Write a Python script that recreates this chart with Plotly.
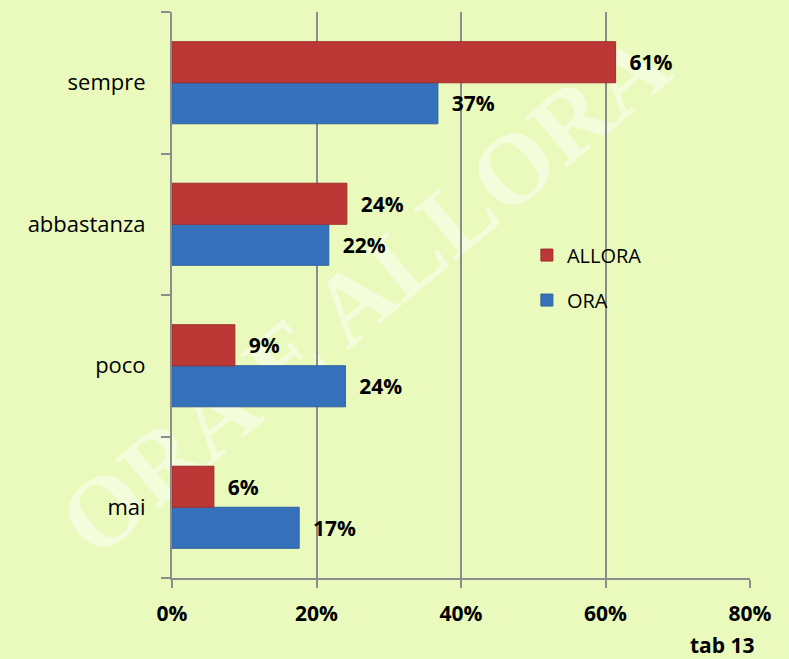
import plotly.graph_objects as go

categories = ["mai", "poco", "abbastanza", "sempre"]
allora_vals = [5.8, 8.7, 24.2, 61.4]
ora_vals = [17.6, 24.0, 21.7, 36.8]
allora_labels = ["6%", "9%", "24%", "61%"]
ora_labels = ["17%", "24%", "22%", "37%"]
x_ticks = [0, 20, 40, 60, 80]
x_ticktext = ["0%", "20%", "40%", "60%", "80%"]

BG = "#EAFABD"
RED = "#BC3836"
BLUE = "#3672BC"
GAP = "\u00a0\u00a0"
FONT = "Open Sans"

fig = go.Figure()
fig.add_trace(go.Bar(
    y=categories, x=ora_vals, orientation="h", name="ORA",
    marker=dict(color=BLUE, line=dict(color="#2F5F9E", width=1)),
    text=[GAP + t for t in ora_labels], textposition="outside",
    textfont=dict(family=FONT, size=21, color="black", weight="bold"),
    cliponaxis=False, legendrank=2, legendgroup="b",
))
fig.add_trace(go.Bar(
    y=categories, x=allora_vals, orientation="h", name="ALLORA",
    marker=dict(color=RED, line=dict(color="#9E2D2C", width=1)),
    text=[GAP + t for t in allora_labels], textposition="outside",
    textfont=dict(family=FONT, size=21, color="black", weight="bold"),
    cliponaxis=False, legendrank=1, legendgroup="a",
))

# watermark (decorative, behind the plot), along the figure diagonal
wm_font = dict(family="Liberation Serif", size=100, color="rgba(255,255,255,0.45)", weight="bold")
fig.add_shape(type="line", xref="paper", yref="paper", x0=-0.2976, y0=-0.1431, x1=1.0675, y1=1.0212,
              line=dict(color="rgba(0,0,0,0)", width=0), layer="below",
              label=dict(text="ORA E ALLORA", font=wm_font, textposition="middle"))

fig.update_layout(
    width=789, height=659,
    margin=dict(l=172, r=39, t=12, b=81),
    paper_bgcolor=BG, plot_bgcolor="rgba(0,0,0,0)",
    barmode="group", bargap=0.42, bargroupgap=0,
    font=dict(family=FONT, size=20, color="black"),
    showlegend=True,
    legend=dict(x=0.614, y=0.605, xanchor="left", yanchor="top", bgcolor="rgba(0,0,0,0)",
                font=dict(family=FONT, size=20, color="black"), tracegroupgap=16,
                itemwidth=30),
    xaxis=dict(range=[0, 80], tickvals=x_ticks, ticktext=x_ticktext,
               showgrid=True, gridcolor="#8C8C8C", gridwidth=2,
               showline=True, linecolor="#8C8C8C", linewidth=2,
               ticks="outside", ticklen=8, tickwidth=2, tickcolor="#8C8C8C",
               ticklabelstandoff=8,
               tickfont=dict(family=FONT, size=21, color="black", weight="bold"),
               zeroline=False, fixedrange=True),
    yaxis=dict(categoryorder="array", categoryarray=categories,
               showline=True, linecolor="#8C8C8C", linewidth=2,
               ticks="outside", ticklen=9, tickwidth=2, tickcolor="#8C8C8C",
               tickson="boundaries", ticklabelstandoff=20,
               tickfont=dict(family=FONT, size=22, color="black"),
               showgrid=False, zeroline=False),
    annotations=[dict(text="<b>tab 13</b>", xref="paper", yref="paper", x=1.012, y=-0.118,
                      xanchor="right", yanchor="middle", showarrow=False,
                      font=dict(family=FONT, size=21, color="black"))],
)

fig.write_html("out.html", config={"displayModeBar": False},
               post_script="document.body.style.margin='0';document.body.style.overflow='hidden';")
